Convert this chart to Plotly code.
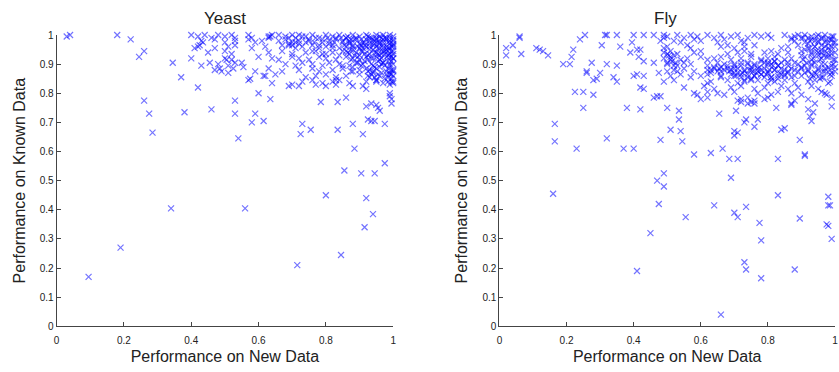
import plotly.graph_objects as go

# ---------------- data: (performance on new data, performance on known data) ----------------
yeast_sparse = [
    (0.03, 0.995), (0.04, 1.0), (0.18, 1.0), (0.22, 0.985), (0.245, 0.925), (0.26, 0.945),
    (0.345, 0.905), (0.37, 0.855), (0.26, 0.775), (0.275, 0.73), (0.285, 0.665), (0.38, 0.735),
    (0.42, 0.82), (0.40, 0.92), (0.43, 0.895), (0.455, 0.905), (0.46, 0.745), (0.53, 0.775),
    (0.53, 0.73), (0.54, 0.645), (0.34, 0.405), (0.56, 0.405), (0.19, 0.27), (0.095, 0.17),
    (0.57, 0.845), (0.575, 0.85), (0.58, 0.70), (0.59, 0.875), (0.59, 0.73), (0.60, 0.80),
    (0.615, 0.705), (0.615, 0.86), (0.635, 0.78), (0.64, 0.835), (0.715, 0.21), (0.73, 0.695),
    (0.725, 0.66), (0.755, 0.675), (0.80, 0.45), (0.835, 0.675), (0.845, 0.245), (0.855, 0.535),
    (0.88, 0.695), (0.885, 0.61), (0.91, 0.66), (0.905, 0.525), (0.92, 0.44), (0.915, 0.34),
    (0.94, 0.385), (0.945, 0.525), (0.975, 0.56), (0.975, 0.695), (0.925, 0.71), (0.935, 0.705),
    (0.945, 0.705), (0.92, 0.755), (0.935, 0.765), (0.95, 0.76), (0.955, 0.75), (0.96, 0.74),
    (0.99, 0.79), (0.995, 0.78), (0.995, 0.765), (0.99, 0.80), (0.785, 0.77), (0.835, 0.77),
    (0.86, 0.785), (0.69, 0.825), (0.70, 0.83), (0.72, 0.825), (0.88, 0.825), (0.91, 0.825),
    (0.92, 0.815), (0.53, 0.905), (0.555, 0.89), (0.485, 0.885), (0.49, 0.875), (0.51, 0.87),
    (0.525, 0.885), (0.505, 0.915), (0.425, 0.965), (0.435, 0.975), (0.41, 0.955),
]
yeast_dense = [
    (0.40, 1.0), (0.42, 0.995), (0.44, 1.0), (0.46, 0.99), (0.48, 1.0), (0.50, 0.995), (0.52, 1.0),
    (0.53, 0.99), (0.57, 1.0), (0.58, 0.99), (0.63, 0.995), (0.64, 1.0), (0.66, 1.0), (0.68, 0.995),
    (0.70, 1.0), (0.71, 0.99), (0.72, 1.0), (0.74, 0.995), (0.76, 1.0), (0.78, 0.99), (0.80, 1.0),
    (0.82, 0.995), (0.84, 1.0), (0.86, 0.99), (0.88, 1.0), (0.90, 0.995), (0.92, 1.0), (0.93, 0.99),
    (0.95, 1.0), (0.96, 0.995), (0.97, 1.0), (0.98, 0.99), (0.99, 1.0), (1.0, 0.995),
    (0.43, 0.98), (0.47, 0.985), (0.50, 0.975), (0.53, 0.98), (0.57, 0.985), (0.59, 0.975),
    (0.61, 0.98), (0.68, 0.985), (0.70, 0.975), (0.72, 0.98), (0.75, 0.985), (0.79, 0.975),
    (0.81, 0.98), (0.83, 0.985), (0.85, 0.975), (0.87, 0.98), (0.89, 0.985), (0.91, 0.975),
    (0.93, 0.98), (0.95, 0.985), (0.97, 0.975), (0.99, 0.98),
    (0.42, 0.96), (0.47, 0.955), (0.51, 0.96), (0.53, 0.965), (0.58, 0.955), (0.62, 0.96),
    (0.69, 0.965), (0.71, 0.955), (0.73, 0.96), (0.76, 0.965), (0.78, 0.955), (0.80, 0.96),
    (0.82, 0.965), (0.84, 0.955), (0.86, 0.96), (0.88, 0.965), (0.90, 0.955), (0.92, 0.96),
    (0.94, 0.965), (0.96, 0.955), (0.98, 0.96), (1.0, 0.965),
    (0.45, 0.94), (0.50, 0.945), (0.52, 0.935), (0.63, 0.94), (0.67, 0.945), (0.70, 0.935),
    (0.74, 0.94), (0.77, 0.945), (0.79, 0.935), (0.82, 0.94), (0.85, 0.945), (0.87, 0.935),
    (0.89, 0.94), (0.91, 0.945), (0.93, 0.935), (0.95, 0.94), (0.97, 0.945), (0.99, 0.935),
    (0.50, 0.92), (0.52, 0.915), (0.60, 0.925), (0.64, 0.92), (0.66, 0.915), (0.70, 0.925),
    (0.72, 0.92), (0.75, 0.915), (0.78, 0.925), (0.80, 0.92), (0.83, 0.915), (0.86, 0.925),
    (0.88, 0.92), (0.90, 0.915), (0.92, 0.925), (0.94, 0.92), (0.96, 0.915), (0.98, 0.925), (1.0, 0.92),
    (0.48, 0.90), (0.51, 0.895), (0.55, 0.905), (0.68, 0.90), (0.71, 0.895), (0.73, 0.905),
    (0.76, 0.90), (0.79, 0.895), (0.81, 0.905), (0.84, 0.90), (0.87, 0.895), (0.89, 0.905),
    (0.91, 0.90), (0.94, 0.895), (0.97, 0.905), (0.99, 0.90),
    (0.47, 0.88), (0.63, 0.885), (0.67, 0.875), (0.72, 0.88), (0.76, 0.885), (0.78, 0.875),
    (0.82, 0.88), (0.85, 0.885), (0.88, 0.875), (0.93, 0.88), (0.95, 0.885), (0.98, 0.875), (1.0, 0.88),
    (0.62, 0.86), (0.65, 0.865), (0.74, 0.855), (0.77, 0.86), (0.80, 0.865), (0.83, 0.855),
    (0.86, 0.86), (0.90, 0.865), (0.93, 0.855), (0.96, 0.86), (0.99, 0.865),
    (0.73, 0.84), (0.76, 0.845), (0.79, 0.835), (0.82, 0.84), (0.84, 0.845), (0.87, 0.835),
    (0.92, 0.84), (0.95, 0.845), (0.97, 0.835), (1.0, 0.84), (0.77, 0.83), (0.80, 0.825),
    (0.83, 0.83), (0.99, 0.83),
    (0.94, 0.985), (0.96, 0.975), (0.97, 0.965), (0.985, 0.955), (0.995, 0.945), (1.0, 0.935),
    (0.99, 0.925), (0.975, 0.935), (0.955, 0.955), (0.945, 0.97), (0.98, 0.985), (0.99, 0.97),
    (1.0, 0.98), (1.0, 0.96), (1.0, 0.92), (1.0, 0.90), (0.99, 0.895), (0.97, 0.905),
    (0.965, 0.92), (0.95, 0.925), (0.93, 0.95), (0.915, 0.965), (0.905, 0.985), (0.985, 0.91),
    (0.99, 0.87), (1.0, 0.86), (0.995, 0.85), (0.985, 0.84), (1.0, 0.835),
    (0.69, 0.97), (0.70, 0.965), (0.72, 0.97), (0.74, 0.975), (0.635, 0.995), (0.63, 0.99),
    (0.87, 0.97), (0.88, 0.95), (0.86, 0.945), (0.90, 0.93), (0.925, 0.915), (0.94, 0.87),
    (0.935, 0.865), (0.95, 0.845), (0.95, 0.84), (0.875, 0.875), (0.85, 0.895), (0.83, 0.845),
]
yeast_core = [
    (0.86, 0.99), (0.87, 0.975), (0.88, 0.96), (0.89, 0.99), (0.90, 0.97), (0.91, 0.955),
    (0.92, 0.985), (0.93, 0.97), (0.94, 0.95), (0.95, 0.99), (0.96, 0.97), (0.97, 0.985),
    (0.98, 0.95), (0.99, 0.99), (1.0, 0.97), (0.865, 0.94), (0.885, 0.93), (0.905, 0.945),
    (0.925, 0.93), (0.945, 0.94), (0.965, 0.935), (0.985, 0.945), (0.995, 0.925), (0.875, 0.915),
    (0.895, 0.905), (0.915, 0.91), (0.935, 0.90), (0.955, 0.91), (0.975, 0.895), (0.995, 0.91),
    (0.88, 0.89), (0.90, 0.88), (0.92, 0.885), (0.94, 0.875), (0.96, 0.89), (0.98, 0.865),
    (1.0, 0.875), (0.925, 0.86), (0.945, 0.855), (0.965, 0.87), (0.985, 0.855), (0.995, 0.88),
    (0.73, 0.995), (0.75, 0.98), (0.77, 0.99), (0.79, 0.985), (0.81, 0.97), (0.83, 0.99),
    (0.85, 0.98), (0.78, 0.965), (0.82, 0.955), (0.76, 0.945), (0.80, 0.935), (0.84, 0.93),
    (0.69, 0.99), (0.71, 0.975), (0.67, 0.965), (0.66, 0.98), (0.975, 0.99), (0.955, 0.975),
    (0.935, 0.99), (0.915, 0.975), (0.895, 0.96), (0.875, 0.95), (0.99, 0.955), (1.0, 0.985),
    (1.0, 0.945), (0.97, 0.955), (0.95, 0.96), (0.93, 0.96),
    (0.865, 0.995), (0.885, 0.985), (0.905, 0.965), (0.925, 0.995), (0.945, 0.98), (0.965, 0.99),
    (0.985, 0.975), (0.995, 0.96), (0.975, 0.945), (0.955, 0.935), (0.935, 0.92), (0.915, 0.935),
    (0.895, 0.925), (0.905, 0.895), (0.925, 0.875), (0.945, 0.89), (0.965, 0.9), (0.985, 0.885),
    (0.995, 0.865), (0.975, 0.85), (0.955, 0.865), (0.995, 0.84), (0.985, 0.93), (0.96, 0.93),
    (0.875, 0.985), (0.855, 0.965), (0.845, 0.99), (0.825, 0.975), (0.805, 0.99), (0.765, 0.975),
]
fly_sparse = [
    (0.02, 0.955), (0.02, 0.93), (0.04, 0.965), (0.06, 0.995), (0.06, 0.99), (0.065, 0.935),
    (0.11, 0.955), (0.12, 0.95), (0.13, 0.945), (0.145, 0.93), (0.19, 0.90), (0.21, 0.90),
    (0.215, 0.925), (0.22, 0.95), (0.225, 0.805), (0.24, 0.985), (0.255, 1.0), (0.25, 0.805),
    (0.25, 0.75), (0.26, 0.875), (0.26, 0.87), (0.275, 0.905), (0.28, 0.845), (0.28, 0.795),
    (0.29, 0.85), (0.30, 0.87), (0.305, 0.965), (0.315, 1.0), (0.32, 1.0), (0.32, 0.90),
    (0.34, 0.855), (0.35, 0.84), (0.35, 0.895), (0.36, 0.96), (0.35, 1.0), (0.38, 0.75),
    (0.39, 0.94), (0.395, 0.975), (0.40, 1.0), (0.40, 0.86), (0.41, 0.865), (0.41, 0.95),
    (0.42, 0.95), (0.43, 1.0), (0.415, 0.925), (0.42, 0.82), (0.43, 0.815), (0.43, 0.86),
    (0.43, 0.91), (0.42, 0.745), (0.46, 0.905), (0.46, 0.785), (0.47, 0.79), (0.475, 0.87),
    (0.48, 0.79), (0.48, 0.98), (0.49, 1.0), (0.49, 0.99), (0.165, 0.695), (0.165, 0.635),
    (0.16, 0.455), (0.23, 0.61), (0.32, 0.645), (0.37, 0.61), (0.40, 0.61), (0.41, 0.19),
    (0.45, 0.32), (0.47, 0.50), (0.475, 0.42), (0.48, 0.64), (0.49, 0.525), (0.49, 0.48),
    (0.50, 0.75), (0.51, 0.675), (0.535, 0.71), (0.535, 0.74), (0.54, 0.67), (0.545, 0.635),
    (0.555, 0.375), (0.58, 0.59), (0.63, 0.595), (0.64, 0.415), (0.66, 0.04), (0.655, 0.73),
    (0.665, 0.61), (0.685, 0.575), (0.69, 0.51), (0.70, 0.67), (0.70, 0.655), (0.70, 0.39),
    (0.705, 0.74), (0.71, 0.375), (0.71, 0.575), (0.71, 0.665), (0.73, 0.22), (0.735, 0.195),
    (0.735, 0.41), (0.73, 0.70), (0.735, 0.71), (0.76, 0.685), (0.77, 0.71), (0.775, 0.355),
    (0.78, 0.295), (0.78, 0.165), (0.825, 0.75), (0.83, 0.575), (0.83, 0.45), (0.84, 0.675),
    (0.85, 0.68), (0.88, 0.195), (0.895, 0.37), (0.895, 0.64), (0.91, 0.59), (0.91, 0.585),
    (0.92, 0.745), (0.925, 0.72), (0.93, 0.705), (0.935, 0.735), (0.94, 0.765), (0.98, 0.445),
    (0.98, 0.415), (0.985, 0.415), (0.975, 0.35), (0.98, 0.345), (0.99, 0.30), (0.99, 0.755),
    (0.87, 0.76), (0.87, 0.765),
]
fly_dense = [
    (0.46, 1.0), (0.50, 0.995), (0.53, 1.0), (0.55, 0.99), (0.57, 1.0), (0.59, 0.995), (0.62, 1.0),
    (0.64, 0.99), (0.66, 1.0), (0.69, 0.995), (0.71, 1.0), (0.74, 0.99), (0.76, 1.0), (0.78, 0.995),
    (0.80, 1.0), (0.81, 0.99), (0.85, 1.0), (0.88, 0.995), (0.89, 1.0), (0.90, 0.99), (0.91, 1.0),
    (0.93, 0.995), (0.95, 1.0), (0.96, 0.99), (0.97, 1.0), (0.99, 0.995),
    (0.52, 0.98), (0.54, 0.975), (0.58, 0.985), (0.60, 0.98), (0.65, 0.975), (0.67, 0.985),
    (0.72, 0.98), (0.73, 0.975), (0.87, 0.985), (0.88, 0.98), (0.91, 0.975), (0.93, 0.985),
    (0.95, 0.98), (0.97, 0.975), (0.99, 0.985),
    (0.50, 0.96), (0.56, 0.965), (0.57, 0.955), (0.66, 0.96), (0.68, 0.965), (0.70, 0.955),
    (0.73, 0.96), (0.76, 0.965), (0.84, 0.955), (0.86, 0.96), (0.89, 0.965), (0.92, 0.955),
    (0.94, 0.96), (0.96, 0.965), (0.98, 0.955), (1.0, 0.96),
    (0.49, 0.94), (0.51, 0.945), (0.53, 0.935), (0.58, 0.94), (0.60, 0.945), (0.68, 0.935),
    (0.71, 0.94), (0.73, 0.945), (0.75, 0.935), (0.79, 0.94), (0.81, 0.945), (0.83, 0.935),
    (0.86, 0.94), (0.90, 0.945), (0.93, 0.935), (0.95, 0.94), (0.97, 0.945), (0.99, 0.935),
    (0.49, 0.92), (0.51, 0.925), (0.54, 0.915), (0.56, 0.92), (0.60, 0.925), (0.62, 0.915),
    (0.64, 0.92), (0.66, 0.925), (0.69, 0.915), (0.72, 0.92), (0.75, 0.925), (0.78, 0.915),
    (0.80, 0.92), (0.82, 0.925), (0.85, 0.915), (0.87, 0.92), (0.91, 0.925), (0.93, 0.915),
    (0.96, 0.92), (0.98, 0.925), (1.0, 0.915),
    (0.50, 0.90), (0.53, 0.895), (0.55, 0.905), (0.57, 0.90), (0.62, 0.895), (0.65, 0.905),
    (0.67, 0.90), (0.70, 0.895), (0.72, 0.905), (0.74, 0.90), (0.76, 0.895), (0.79, 0.905),
    (0.81, 0.90), (0.83, 0.895), (0.86, 0.905), (0.89, 0.90), (0.91, 0.895), (0.94, 0.905),
    (0.97, 0.90), (0.99, 0.895),
    (0.52, 0.88), (0.55, 0.885), (0.58, 0.875), (0.63, 0.88), (0.64, 0.885), (0.66, 0.875),
    (0.69, 0.88), (0.71, 0.885), (0.73, 0.875), (0.75, 0.88), (0.77, 0.885), (0.80, 0.875),
    (0.82, 0.88), (0.84, 0.885), (0.86, 0.875), (0.88, 0.88), (0.90, 0.885), (0.92, 0.875),
    (0.95, 0.88), (0.97, 0.885), (1.0, 0.875),
    (0.51, 0.86), (0.54, 0.865), (0.57, 0.855), (0.60, 0.86), (0.62, 0.865), (0.66, 0.855),
    (0.70, 0.86), (0.72, 0.865), (0.74, 0.855), (0.76, 0.86), (0.78, 0.865), (0.81, 0.855),
    (0.83, 0.86), (0.85, 0.865), (0.87, 0.855), (0.90, 0.86), (0.93, 0.865), (0.96, 0.855), (0.99, 0.86),
    (0.49, 0.84), (0.52, 0.845), (0.62, 0.835), (0.63, 0.84), (0.68, 0.845), (0.71, 0.835),
    (0.73, 0.84), (0.75, 0.845), (0.80, 0.835), (0.82, 0.84), (0.85, 0.845), (0.88, 0.835),
    (0.92, 0.84), (0.94, 0.845), (0.98, 0.835),
    (0.55, 0.82), (0.61, 0.825), (0.64, 0.815), (0.69, 0.82), (0.72, 0.825), (0.76, 0.815),
    (0.79, 0.82), (0.84, 0.825), (0.86, 0.815), (0.89, 0.82), (0.93, 0.825), (0.95, 0.815),
    (0.58, 0.80), (0.59, 0.795), (0.62, 0.805), (0.65, 0.80), (0.67, 0.795), (0.70, 0.805),
    (0.77, 0.80), (0.81, 0.795), (0.83, 0.805), (0.87, 0.80), (0.90, 0.795), (0.96, 0.805), (0.97, 0.80),
    (0.60, 0.78), (0.62, 0.785), (0.71, 0.775), (0.72, 0.78), (0.74, 0.785), (0.76, 0.775),
    (0.79, 0.78), (0.80, 0.785), (0.88, 0.775), (0.92, 0.78), (0.99, 0.785),
    (0.72, 0.77), (0.74, 0.765), (0.75, 0.77), (0.76, 0.765),
    (0.66, 0.89), (0.68, 0.885), (0.70, 0.87), (0.755, 0.875), (0.765, 0.87), (0.78, 0.88),
    (0.80, 0.905), (0.82, 0.91), (0.835, 0.87), (0.85, 0.86), (0.93, 0.90), (0.95, 0.93),
    (0.96, 0.95), (0.98, 0.97), (0.94, 0.98), (0.515, 0.91), (0.525, 0.905), (0.505, 0.93),
    (0.87, 0.99), (0.92, 0.99), (0.965, 0.875), (0.985, 0.88), (0.935, 0.86), (0.955, 0.85),
    (0.985, 0.84), (0.975, 0.795),
]
fly_band = [
    (0.62, 0.88), (0.63, 0.87), (0.64, 0.89), (0.65, 0.875), (0.66, 0.86), (0.67, 0.88),
    (0.68, 0.895), (0.69, 0.865), (0.70, 0.885), (0.71, 0.87), (0.72, 0.855), (0.73, 0.88),
    (0.74, 0.865), (0.75, 0.89), (0.76, 0.86), (0.77, 0.875), (0.78, 0.865), (0.79, 0.885),
    (0.80, 0.87), (0.81, 0.855), (0.82, 0.88), (0.83, 0.895), (0.84, 0.865), (0.85, 0.88),
    (0.86, 0.87), (0.87, 0.885), (0.88, 0.86), (0.89, 0.875), (0.90, 0.89), (0.91, 0.87),
    (0.92, 0.88), (0.93, 0.895), (0.94, 0.87), (0.95, 0.885), (0.96, 0.90), (0.97, 0.875),
    (0.98, 0.89), (0.99, 0.87), (1.0, 0.89),
    (0.70, 0.90), (0.72, 0.895), (0.74, 0.905), (0.76, 0.90), (0.78, 0.91), (0.80, 0.90),
    (0.82, 0.91), (0.84, 0.905), (0.86, 0.895), (0.88, 0.905), (0.79, 0.855), (0.81, 0.845),
    (0.83, 0.85), (0.75, 0.85), (0.73, 0.845), (0.77, 0.845),
    (0.90, 0.93), (0.91, 0.95), (0.92, 0.97), (0.93, 0.94), (0.94, 0.96), (0.95, 0.975),
    (0.96, 0.94), (0.97, 0.96), (0.98, 0.935), (0.99, 0.96), (1.0, 0.94), (0.965, 0.99),
    (0.985, 0.985), (0.995, 0.995), (0.975, 0.925), (0.955, 0.915), (0.935, 0.92),
    (0.915, 0.905), (0.995, 0.915), (1.0, 0.975),
    (0.49, 0.955), (0.50, 0.935), (0.51, 0.915), (0.52, 0.895), (0.50, 0.905), (0.52, 0.93),
    (0.53, 0.875), (0.50, 0.875),
    (0.905, 0.99), (0.925, 0.98), (0.945, 0.995), (0.975, 0.985), (0.995, 0.975), (0.985, 0.95),
    (0.965, 0.93), (0.945, 0.945), (0.925, 0.955), (0.905, 0.915), (0.995, 0.90), (0.985, 0.865),
    (0.965, 0.855), (0.945, 0.865), (0.925, 0.85), (0.805, 0.88), (0.815, 0.895), (0.795, 0.865),
    (0.775, 0.89), (0.745, 0.88), (0.725, 0.87), (0.705, 0.86), (0.685, 0.875), (0.655, 0.885),
]

x_ticks = [0, 0.2, 0.4, 0.6, 0.8, 1]
x_tick_text = ["0", "0.2", "0.4", "0.6", "0.8", "1"]
y_ticks = [0, 0.1, 0.2, 0.3, 0.4, 0.5, 0.6, 0.7, 0.8, 0.9, 1]
y_tick_text = ["0", "0.1", "0.2", "0.3", "0.4", "0.5", "0.6", "0.7", "0.8", "0.9", "1"]

W, H = 839, 372
FONT = "Liberation Sans, Arial, sans-serif"
MARK = dict(symbol="x-thin", size=6, color="rgba(0,0,255,0.55)",
            line=dict(width=1.2, color="rgba(0,0,255,0.55)"))

fig = go.Figure()
panels = [
    (yeast_sparse + yeast_dense + yeast_core, "x", "y"),
    (fly_sparse + fly_dense + fly_band, "x2", "y2"),
]
for pts, xa, ya in panels:
    fig.add_trace(go.Scatter(
        x=[p[0] for p in pts], y=[p[1] for p in pts], mode="markers",
        marker=MARK, xaxis=xa, yaxis=ya, cliponaxis=False, showlegend=False,
        hoverinfo="skip"))

ydom = [41 / H, 342 / H]
axis_common = dict(range=[0, 1], showgrid=False, zeroline=False, showline=True,
                   linecolor="#444", linewidth=1, ticks="inside", ticklen=4,
                   tickcolor="#444", tickfont=dict(family=FONT, size=10, color="#222"),
                   mirror=False)
xtitle = dict(text="Performance on New Data", font=dict(size=16), standoff=5)
ytitle = dict(text="Performance on Known Data", font=dict(size=16), standoff=10)
fig.update_layout(
    width=W, height=H, margin=dict(l=0, r=0, t=0, b=0),
    paper_bgcolor="white", plot_bgcolor="white",
    font=dict(family=FONT, color="#222"),
    xaxis=dict(domain=[54 / W, 393 / W], tickvals=x_ticks, ticktext=x_tick_text,
               title=xtitle, anchor="y", ticklabelstandoff=5, **axis_common),
    yaxis=dict(domain=ydom, tickvals=y_ticks, ticktext=y_tick_text,
               title=ytitle, anchor="x", **axis_common),
    xaxis2=dict(domain=[500 / W, 838 / W], tickvals=x_ticks, ticktext=x_tick_text,
                title=xtitle, anchor="y2", ticklabelstandoff=5, **axis_common),
    yaxis2=dict(domain=ydom, tickvals=y_ticks, ticktext=y_tick_text,
                title=ytitle, anchor="x2", **axis_common),
    annotations=[
        dict(text="Yeast", x=(54 + 393) / 2 / W, y=1 - 13 / H, xref="paper", yref="paper",
             showarrow=False, font=dict(family=FONT, size=17, color="#222"),
             xanchor="center", yanchor="middle"),
        dict(text="Fly", x=667 / W, y=1 - 13 / H, xref="paper", yref="paper",
             showarrow=False, font=dict(family=FONT, size=17, color="#222"),
             xanchor="center", yanchor="middle"),
    ],
)
fig.write_html("out.html")
